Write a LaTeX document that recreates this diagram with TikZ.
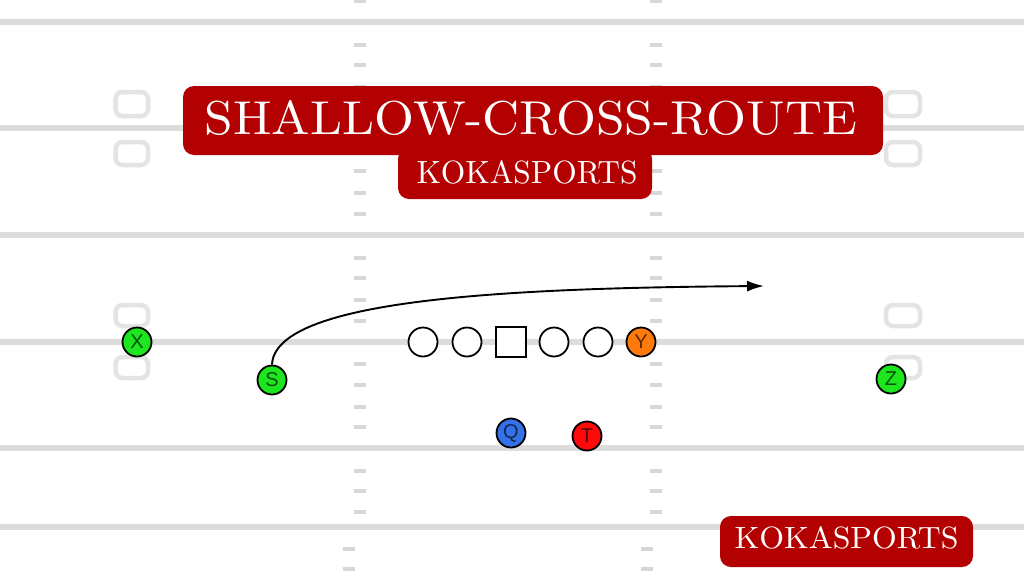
\documentclass[tikz,border=0pt]{standalone}
\usepackage{fontspec}
\newfontfamily\plfont{Liberation Sans}
\usetikzlibrary{arrows.meta}
\definecolor{kred}{HTML}{B30000}
\definecolor{fgrey}{HTML}{DCDCDC}
\definecolor{hgrey}{HTML}{D6D6D6}
\definecolor{nbgrey}{HTML}{E4E4E4}
\definecolor{pgreen}{HTML}{1EE61E}
\definecolor{porange}{HTML}{FF7A0A}
\definecolor{pblue}{HTML}{3470E8}
\definecolor{pred}{HTML}{FF0A0A}
\tikzset{
  fieldline/.style={draw=fgrey, line width=5.5pt},
  hashmark/.style={fill=hgrey},
  numbox/.style={draw=nbgrey, line width=4.5pt, rounded corners=7pt},
  player/.style={circle, draw=black, line width=1.8pt, minimum size=29pt, inner sep=0pt,
    font=\plfont\fontsize{20}{20}\selectfont},
  lineman/.style={circle, draw=black, line width=1.8pt, fill=white, minimum size=29pt, inner sep=0pt},
  center/.style={rectangle, draw=black, line width=1.8pt, fill=white, minimum size=30pt, inner sep=0pt},
  route/.style={draw=black, line width=1.9pt, -{Latex[length=17pt,width=11pt]}},
  redbox/.style={fill=kred, rounded corners=11pt},
  titletext/.style={text=white, inner sep=0pt, anchor=center}
}
\begin{document}
\begin{tikzpicture}[x=1pt,y=-1pt]
\useasboundingbox (0,0) rectangle (1024,576);
\fill[white] (0,0) rectangle (1024,576);
% field lines
\foreach \yy in {22,128,235,342,448,527}
  \draw[fieldline] (0,\yy) -- (1024,\yy);
% hash marks
\foreach \yy in {1,45,65,87,107,150,171,193,214,258,278,300,321,364,385,407,427,471,491,512} {
  \fill[hashmark] (354,\yy-2) rectangle (366,\yy+2);
  \fill[hashmark] (650,\yy-2) rectangle (662,\yy+2);
}
\foreach \yy in {549,569} {
  \fill[hashmark] (343,\yy-2) rectangle (355,\yy+2);
  \fill[hashmark] (641,\yy-2) rectangle (653,\yy+2);
}
% number boxes
\foreach \xa/\xb in {115.5/148, 886/920} {
  \draw[numbox] (\xa,92) rectangle (\xb,116);
  \draw[numbox] (\xa,142) rectangle (\xb,165);
  \draw[numbox] (\xa,305) rectangle (\xb,326);
  \draw[numbox] (\xa,357) rectangle (\xb,378);
}
% players
\node[player, fill=pgreen, text=pgreen!35!black] (X) at (137,342) {X};
\node[player, fill=pgreen, text=pgreen!35!black] (S) at (272,380) {S};
\node[player, fill=pgreen, text=pgreen!35!black] (Z) at (891,379) {Z};
\node[lineman] (LT) at (423,342) {};
\node[lineman] (LG) at (467,342) {};
\node[center] (C) at (511,342) {};
\node[lineman] (RG) at (554,342) {};
\node[lineman] (RT) at (598,342) {};
\node[player, fill=porange, text=porange!35!black] (Y) at (641,342) {Y};
\node[player, fill=pblue, text=pblue!35!black] (Q) at (511,433) {Q};
\node[player, fill=pred, text=pred!35!black] (T) at (587,436) {T};
% route
\coordinate (rEnd) at (764,286);
\draw[route] (S.north) .. controls (275,300) and (500,288) .. (rEnd);
% title boxes
\fill[redbox] (398,148) rectangle (652,199);
\fill[redbox] (183,86) rectangle (883,155);
\fill[redbox] (720,516) rectangle (973,567);
\node[titletext] (title) at (531,118.5) {\resizebox{652pt}{34pt}{SHALLOW-CROSS-ROUTE}};
\node[titletext] (sub) at (527,172) {\resizebox{221pt}{23pt}{KOKASPORTS}};
\node[titletext] (brand) at (846.5,538) {\resizebox{224pt}{22pt}{KOKASPORTS}};
\end{tikzpicture}
\end{document}
